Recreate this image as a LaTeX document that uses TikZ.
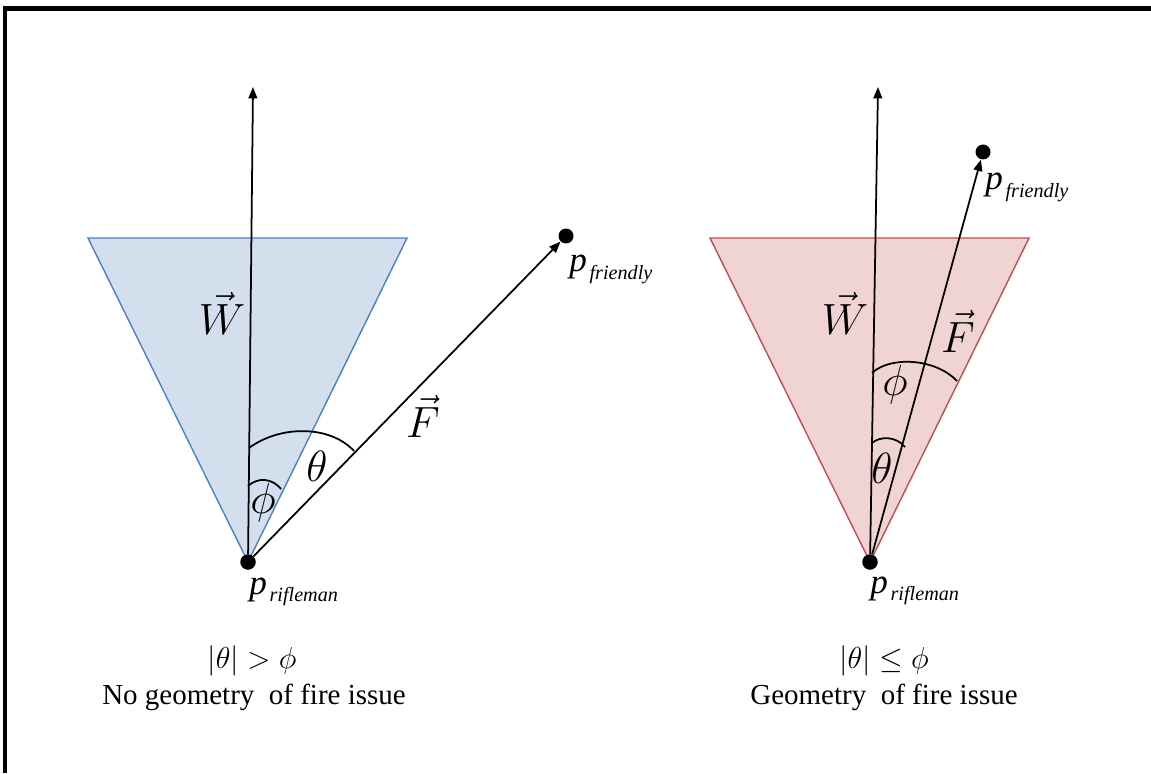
\documentclass[tikz,border=0pt]{standalone}
\usepackage{fontspec}
\setmainfont{Liberation Serif}
\usepackage{amsmath,amssymb}
\usepackage{xcolor}
\usepackage{tikz}
\usetikzlibrary{
  arrows.meta,
  positioning,
}

\definecolor{coneblue}{RGB}{211,223,237}
\definecolor{coneblueline}{RGB}{79,129,189}
\definecolor{conered}{RGB}{240,212,212}
\definecolor{coneredline}{RGB}{192,80,77}

% point label p with an italic subscript
\newcommand{\ptlabel}[1]{{\fontsize{20}{22}\selectfont\itshape p}\hspace{1.5pt}\raisebox{-4.5pt}{\fontsize{11.5}{13}\selectfont\itshape #1}}

\begin{document}
\begin{tikzpicture}[
  x=0.02cm, y=-0.02cm,
  font=\fontsize{16.5}{20}\selectfont,
  every node/.style={inner sep=0pt},
  dot/.style={circle, fill=black, minimum size=0.31cm},
  vec/.style={-{Triangle[length=6.5pt,width=5pt]}, line width=1pt},
  angmark/.style={line width=1pt},
  lbl/.style={font=\fontsize{23}{26}\selectfont},
]
\useasboundingbox (0,0) rectangle (1151,773);

% frame
\draw[line width=2.3pt] (5,773) -- (5,8.5) -- (1151,8.5);

% left panel
\filldraw[fill=coneblue, draw=coneblueline, line width=0.8pt] (88,238) -- (407,238) -- (248,562) -- cycle;

\node[dot] (rifleA) at (248,562) {};
\node[dot, minimum size=0.3cm] (friendA) at (566,236) {};
\coordinate (wtipA) at (253,87);

\draw[vec] (rifleA) -- (wtipA);
\draw[vec] (rifleA) -- (friendA);

\draw[angmark] (249,448) .. controls (280,425) and (330,425) .. (354,451);
\draw[angmark] (248,486) .. controls (258,477) and (272,478) .. (281,489);

\node[lbl] (wA) at (222,313) {$\vec{W}$};
\node[lbl, font=\fontsize{26}{28}\selectfont] (fA) at (423,416) {$\vec{F}$};
\node[lbl] (thetaA) at (317,466) {$\theta$};
\node[lbl] (phiA) at (263,503) {$\phi$};
\node[anchor=base west] (prA) at (249,594) {\ptlabel{rifleman}};
\node[anchor=base west] (pfA) at (569,272) {\ptlabel{friendly}};

\node (condA) at (252,661) {$|\theta| > \phi$};
\node (verdictA) at (254,697) {No geometry\ \ of fire issue};

% right panel
\filldraw[fill=conered, draw=coneredline, line width=0.8pt] (710,238) -- (1029,238) -- (870,562) -- cycle;

\node[dot] (rifleB) at (870,562) {};
\node[dot, minimum size=0.3cm] (friendB) at (983,152) {};
\coordinate (wtipB) at (878,87);

\draw[vec] (rifleB) -- (wtipB);
\draw[vec] (rifleB) -- (friendB);

\draw[angmark] (872,373) .. controls (890,356) and (935,358) .. (957,381);
\draw[angmark] (872,443) .. controls (880,436) and (896,436) .. (905,447);

\node[lbl] (wB) at (845,313) {$\vec{W}$};
\node[lbl] (fB) at (958,331) {$\vec{F}$};
\node[lbl] (phiB) at (895,385) {$\phi$};
\node[lbl] (thetaB) at (882,468) {$\theta$};
\node[anchor=base west] (prB) at (870,593) {\ptlabel{rifleman}};
\node[anchor=base west] (pfB) at (985,190) {\ptlabel{friendly}};

\node (condB) at (884,661) {$|\theta| \leq \phi$};
\node (verdictB) at (884,697) {Geometry\ \ of fire issue};

\end{tikzpicture}
\end{document}
